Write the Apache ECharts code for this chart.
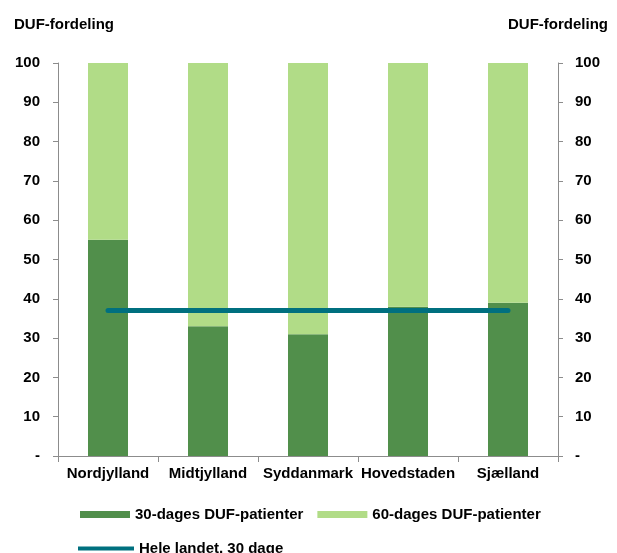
<!DOCTYPE html>
<html>
<head>
<meta charset="utf-8">
<script src="https://cdn.jsdelivr.net/npm/echarts@6/dist/echarts.min.js"></script>
<style>
  html, body { margin: 0; padding: 0; background: #fff; }
  #chart { width: 617px; height: 553px; }
</style>
</head>
<body>
<div id="chart"></div>
<script>
const regions = ["Nordjylland", "Midtjylland", "Syddanmark", "Hovedstaden", "Sjælland"];
const days30 = [55, 33, 31, 38, 39];
const days60 = [45, 67, 69, 62, 61];
const national30 = [37, 37, 37, 37, 37];

const fontFam = "'Liberation Sans Narrow', 'Liberation Sans', Arial, sans-serif";
const labelStyle = { color: "#000", fontWeight: "bold", fontSize: 15, fontFamily: fontFam };

const chart = echarts.init(document.getElementById("chart"));

const yAxisBase = {
  type: "value",
  min: 0,
  max: 100,
  interval: 10,
  axisLine: { show: true, lineStyle: { color: "#8c8c8c" } },
  axisTick: { show: true, length: 5, lineStyle: { color: "#8c8c8c" } },
  splitLine: { show: false },
  axisLabel: {
    ...labelStyle,
    formatter: function (v) { return v === 0 ? "-" : v; },
  },
};

chart.setOption({
  animation: false,
  title: [
    { text: "DUF-fordeling", left: 9, top: 12, textStyle: labelStyle },
    { text: "DUF-fordeling", right: 4, top: 12, textStyle: labelStyle },
  ],
  grid: { left: 58, right: 59, top: 63, bottom: 97 },
  legend: [
    {
      left: 75,
      top: 502,
      itemWidth: 50,
      itemHeight: 7,
      itemGap: 14,
      icon: "rect",
      textStyle: labelStyle,
      data: ["30-dages DUF-patienter", "60-dages DUF-patienter"],
    },
    {
      left: 73,
      top: 536,
      itemWidth: 56,
      itemHeight: 4,
      icon: "rect",
      textStyle: labelStyle,
      data: ["Hele landet, 30 dage"],
    },
  ],
  xAxis: {
    type: "category",
    data: regions,
    axisLine: { lineStyle: { color: "#8c8c8c" } },
    axisTick: { show: true, length: 6, lineStyle: { color: "#8c8c8c" } },
    axisLabel: { ...labelStyle, margin: 10, interval: 0 },
  },
  yAxis: [
    { ...yAxisBase, position: "left", axisLabel: { ...yAxisBase.axisLabel, margin: 18 } },
    { ...yAxisBase, position: "right", axisLabel: { ...yAxisBase.axisLabel, margin: 17 } },
  ],
  series: [
    {
      name: "30-dages DUF-patienter",
      type: "bar",
      stack: "duf",
      barWidth: "40%",
      itemStyle: { color: "#518F4B" },
      data: days30,
    },
    {
      name: "60-dages DUF-patienter",
      type: "bar",
      stack: "duf",
      barWidth: "40%",
      itemStyle: { color: "#B1DC87" },
      data: days60,
    },
    {
      name: "Hele landet, 30 dage",
      type: "line",
      symbol: "none",
      itemStyle: { color: "#00707F" },
      lineStyle: { color: "#00707F", width: 5, cap: "round" },
      data: national30,
    },
  ],
});
</script>
</body>
</html>
